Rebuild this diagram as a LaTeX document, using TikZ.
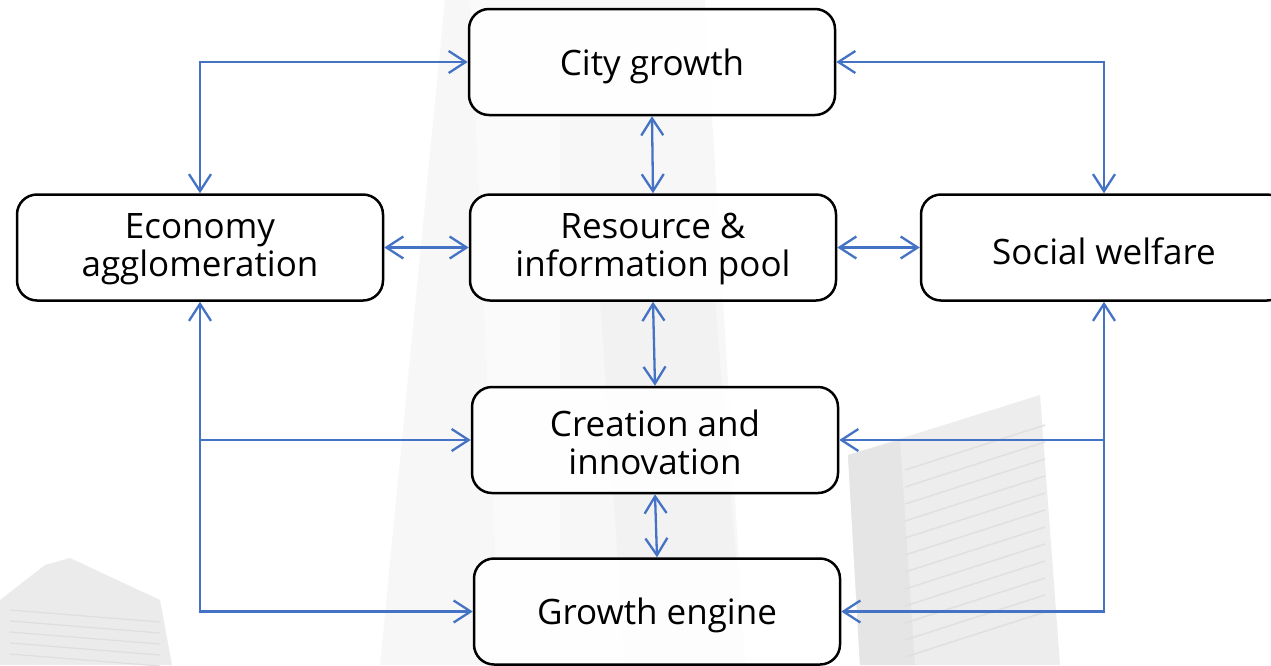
\documentclass[tikz,border=0pt]{standalone}
\usepackage{fontspec}
\setmainfont{Open Sans}
\usetikzlibrary{arrows.meta,positioning,calc}
\definecolor{linkblue}{RGB}{68,114,196}
\tikzset{
  box/.style={draw=black, line width=2.5pt, rounded corners=20pt, fill=white, fill opacity=0.88, text opacity=1,
    minimum width=366pt, minimum height=106pt, inner sep=0pt},
  boxtext/.style={align=center, inner sep=0pt, yshift=-4pt, text opacity=1, fill opacity=1,
    font=\fontsize{35pt}{38pt}\selectfont},
  boxtexttwo/.style={boxtext, yshift=2pt},
  link/.style={draw=linkblue, line width=2.3pt},
  tip/.tip={Straight Barb[length=17pt,width=22pt,line width=2.3pt]}
}
\begin{document}
\begin{tikzpicture}[x=1pt,y=-1pt]
\useasboundingbox (0,0) rectangle (1271,665);
\fill[white] (0,0) rectangle (1271,665);
% faint background buildings
\begin{scope}
\clip (0,0) rectangle (1271,665);
\fill[black!3] (445,0) -- (705,0) -- (745,665) -- (380,665) -- cycle;
\fill[black!5] (600,300) -- (715,300) -- (745,665) -- (625,665) -- cycle;
\fill[black!2] (470,0) -- (560,0) -- (560,665) -- (500,665) -- cycle;
\fill[black!7] (848,455) -- (1040,395) -- (1060,665) -- (860,665) -- cycle;
\fill[black!10] (848,455) -- (900,440) -- (915,665) -- (860,665) -- cycle;
\foreach \k in {0,...,11} {
  \draw[black!12, line width=1.5pt] (905,{470+\k*17}) -- (1045,{425+\k*17});
}
\fill[black!8] (0,600) -- (45,565) -- (70,558) -- (160,600) -- (172,665) -- (0,665) -- cycle;
\foreach \k in {0,...,4} {
  \draw[black!13, line width=1.2pt] (10,{610+\k*11}) -- (160,{622+\k*11});
}
\end{scope}
% nodes
\node[box, label={[boxtext]center:City growth}] (city) at (652,62) {};
\node[box, label={[boxtexttwo]center:Economy\\agglomeration}] (econ) at (200,247.5) {};
\node[box, label={[boxtexttwo]center:Resource \&\\information pool}] (res) at (653,247.5) {};
\node[box, label={[boxtext]center:Social welfare}] (soc) at (1104,247.5) {};
\node[box, label={[boxtexttwo]center:Creation and\\innovation}] (cre) at (655,440) {};
\node[box, label={[boxtext]center:Growth engine}] (eng) at (657,611.5) {};
% connectors
\draw[link,{tip}-{tip}] (city.west) -| (econ.north);
\draw[link,{tip}-{tip}] (city.east) -| (soc.north);
\draw[link,{tip}-{tip}] (city.south) -- (res.north);
\draw[link,{tip}-{tip}] (econ.east) -- (res.west);
\draw[link,{tip}-{tip}] (res.east) -- (soc.west);
\draw[link,{tip}-{tip}] (res.south) -- (cre.north);
\draw[link,{tip}-{tip}] (cre.south) -- (eng.north);
\coordinate (lmid) at (econ.south |- cre.west);
\coordinate (lbot) at (econ.south |- eng.west);
\coordinate (rmid) at (soc.south |- cre.east);
\coordinate (rbot) at (soc.south |- eng.east);
\draw[link,{tip}-{tip}] (econ.south) -- (lbot) -- (eng.west);
\draw[link,-{tip}] (lmid) -- (cre.west);
\draw[link,{tip}-{tip}] (soc.south) -- (rbot) -- (eng.east);
\draw[link,-{tip}] (rmid) -- (cre.east);
\end{tikzpicture}
\end{document}
